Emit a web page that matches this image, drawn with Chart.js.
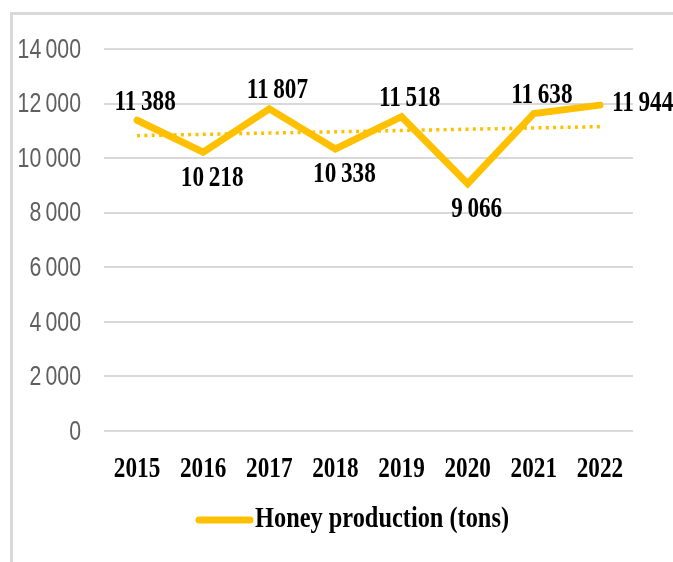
<!DOCTYPE html>
<html>
<head>
<meta charset="utf-8">
<script src="https://cdn.jsdelivr.net/npm/chart.js@4/dist/chart.umd.min.js"></script>
<style>
  html, body { margin: 0; padding: 0; background: #fff; }
  #wrap { position: relative; width: 673px; height: 562px; overflow: hidden; }
  #marco { position: absolute; left: 10px; top: 12px; right: -10px; bottom: -10px;
           border-left: 3px solid #d9d9d9; border-top: 3px solid #d9d9d9; }
  canvas { position: absolute; left: 0; top: 0; }
</style>
</head>
<body>
<div id="wrap">
  <div id="marco"></div>
  <canvas id="grafico" width="673" height="562"></canvas>
</div>
<script>
  // Datos
  const anios = ['2015', '2016', '2017', '2018', '2019', '2020', '2021', '2022'];
  const produccion = [11388, 10218, 11807, 10338, 11518, 9066, 11638, 11944];
  const ejeY = { min: 0, max: 14000, paso: 2000 };
  const etiquetaSerie = 'Honey production (tons)';
  // dónde va cada etiqueta de dato
  const lugarEtiqueta = ['above', 'below', 'above', 'below', 'above', 'below', 'above', 'right'];

  const oro = '#FFC000';

  // línea de tendencia (mínimos cuadrados sobre la serie, como en Excel)
  function tendencia(vals) {
      const n = vals.length;
      const mx = (n - 1) / 2;
      const my = vals.reduce((a, b) => a + b, 0) / n;
      let sxy = 0, sxx = 0;
      vals.forEach((v, i) => { sxy += (i - mx) * (v - my); sxx += (i - mx) * (i - mx); });
      const m = sxy / sxx;
      return vals.map((v, i) => my + m * (i - mx));
  }

  function miles(v) {
      return String(v).replace(/\B(?=(\d{3})+(?!\d))/g, '\u2009');
  }

  // texto comprimido a lo ancho
  function texto(ctx, s, x, y, font, color, align, sx) {
      ctx.save();
      ctx.font = font;
      ctx.fillStyle = color;
      ctx.textBaseline = 'middle';
      ctx.textAlign = 'left';
      const w = ctx.measureText(s).width * sx;
      const izq = align === 'left' ? x : (align === 'right' ? x - w : x - w / 2);
      ctx.translate(izq, y);
      ctx.scale(sx, 1);
      ctx.fillText(s, 0, 0);
      ctx.restore();
  }

  const fuenteSerif = 'bold 29px "Liberation Serif", "Times New Roman", serif';
  const fuenteEje = '28px "Liberation Sans", Arial, sans-serif';

  const textos = {
      id: 'textos',
      afterDraw(chart) {
          const ctx = chart.ctx;
          const ys = chart.scales.y;
          const xs = chart.scales.x;

          // etiquetas del eje Y
          ys.ticks.forEach(t => {
              texto(ctx, miles(t.value), 81, ys.getPixelForValue(t.value) + 1, fuenteEje, '#5f5f5f', 'right', 0.76);
          });

          // etiquetas del eje X
          xs.getLabels().forEach((lab, i) => {
              texto(ctx, lab, xs.getPixelForValue(i), 470, fuenteSerif, '#000', 'center', 0.8);
          });

          // etiquetas de datos
          const meta = chart.getDatasetMeta(0);
          meta.data.forEach((p, i) => {
              const s = miles(produccion[i]);
              const lugar = lugarEtiqueta[i];
              if (lugar === 'above') texto(ctx, s, p.x + 8, p.y - 18, fuenteSerif, '#000', 'center', 0.8);
              else if (lugar === 'below') texto(ctx, s, p.x + 9, p.y + 26, fuenteSerif, '#000', 'center', 0.8);
              else texto(ctx, s, p.x + 12, p.y - 2, fuenteSerif, '#000', 'left', 0.8);
          });

          // leyenda
          ctx.save();
          ctx.strokeStyle = oro;
          ctx.lineWidth = 7;
          ctx.lineCap = 'round';
          ctx.beginPath();
          ctx.moveTo(199, 520);
          ctx.lineTo(250, 520);
          ctx.stroke();
          ctx.restore();
          texto(ctx, etiquetaSerie, 255, 520, fuenteSerif, '#000', 'left', 0.84);
      }
  };

  const ctx = document.getElementById('grafico').getContext('2d');
  const grafico = new Chart(ctx, {
      type: 'line',
      data: {
          labels: anios,
          datasets: [{
              label: etiquetaSerie,
              data: produccion,
              borderColor: oro,
              backgroundColor: oro,
              borderWidth: 7,
              borderCapStyle: 'round',
              borderJoinStyle: 'miter',
              pointRadius: 0,
              tension: 0
          }, {
              label: 'Tendencia',
              data: tendencia(produccion),
              borderColor: oro,
              borderWidth: 3.5,
              borderDash: [3, 4.3],
              pointRadius: 0,
              tension: 0
          }]
      },
      options: {
          responsive: false,
          animation: false,
          layout: { padding: { left: 0, top: 49, right: 40, bottom: 0 } },
          plugins: {
              legend: { display: false },
              tooltip: { enabled: false }
          },
          scales: {
              x: {
                  offset: true,
                  grid: { display: false },
                  border: { display: false },
                  ticks: { display: false },
                  afterFit: s => { s.height = 131; }
              },
              y: {
                  min: ejeY.min,
                  max: ejeY.max,
                  ticks: { stepSize: ejeY.paso, display: false },
                  grid: { color: '#d9d9d9', lineWidth: 2, drawTicks: false },
                  border: { display: false },
                  afterFit: s => { s.width = 104; }
              }
          }
      },
      plugins: [textos]
  });
</script>
</body>
</html>
